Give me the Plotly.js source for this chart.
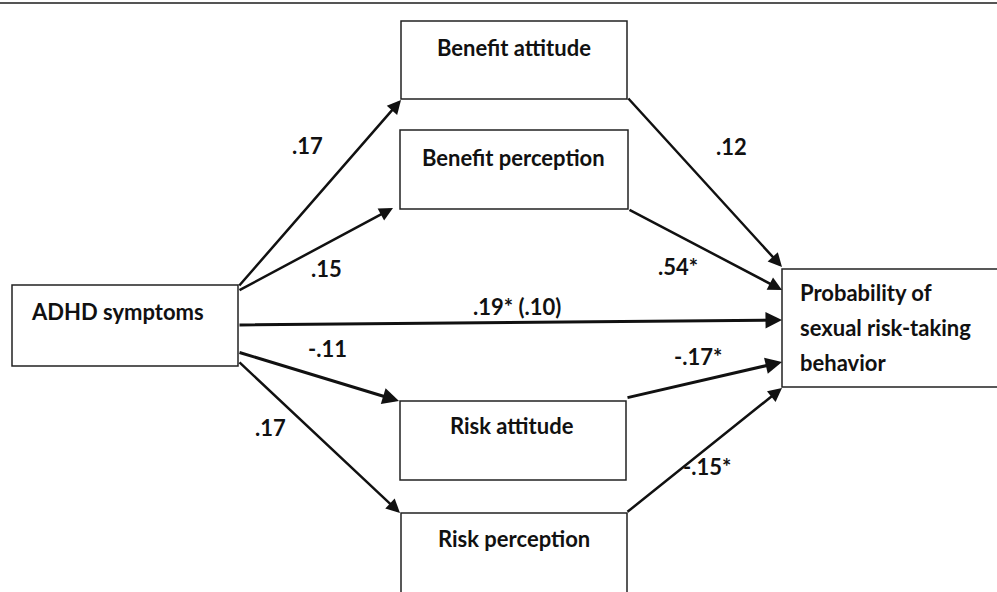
<!DOCTYPE html>
<html>
<head>
<meta charset="utf-8">
<script src="https://cdn.plot.ly/plotly-3.0.1.min.js"></script>
<style>html,body{margin:0;padding:0;background:#fff;}#chart{width:997px;height:592px;}</style>
</head>
<body>
<div id="chart"></div>
<script>
// ---- data ----
const nodeIds = ["adhd", "benAtt", "benPer", "riskAtt", "riskPer", "outcome"];
const nodeLabels = [["ADHD symptoms"], ["Benefit attitude"], ["Benefit perception"], ["Risk attitude"], ["Risk perception"], ["Probability of", "sexual risk-taking", "behavior"]];
const edgeFrom = ["adhd", "adhd", "adhd", "adhd", "adhd", "benAtt", "benPer", "riskAtt", "riskPer"];
const edgeTo = ["benAtt", "benPer", "outcome", "riskAtt", "riskPer", "outcome", "outcome", "outcome", "outcome"];
const edgeCoef = [".17", ".15", ".19* (.10)", "-.11", ".17", ".12", ".54*", "-.17*", "-.15*"];

// ---- geometry (pixel layout of the diagram) ----
const boxes = {
  adhd:    {x0: 12,  y0: 285, x1: 238,  y1: 366, tx: 29,  ty: 311, align: "left"},
  benAtt:  {x0: 401, y0: 21,  x1: 627,  y1: 99,  tx: 514, ty: 47,  align: "center"},
  benPer:  {x0: 400, y0: 130, x1: 628,  y1: 209, tx: 513, ty: 157, align: "center"},
  riskAtt: {x0: 400, y0: 401, x1: 626,  y1: 480, tx: 512, ty: 425, align: "center"},
  riskPer: {x0: 401, y0: 513, x1: 627,  y1: 600, tx: 514, ty: 538, align: "center"},
  outcome: {x0: 782, y0: 269, x1: 1005, y1: 387, tx: 798, ty: 292, align: "left"}
};
const LINE_GAP = 35;
const edgeGeom = [
  {tail: [238, 287], head: [401, 100], lx: 307, ly: 145, w: 2.5},
  {tail: [238, 291], head: [393, 208], lx: 326, ly: 268, w: 2.5},
  {tail: [238, 325], head: [782, 320], lx: 517, ly: 306, w: 3},
  {tail: [238, 352], head: [399, 401], lx: 327, ly: 348, w: 3},
  {tail: [238, 361], head: [400, 513], lx: 270, ly: 427, w: 2.5},
  {tail: [627, 97],  head: [782, 267], lx: 731, ly: 146, w: 2.5},
  {tail: [628, 209], head: [782, 290], lx: 678, ly: 266, w: 2.5},
  {tail: [626, 398], head: [782, 362], lx: 698, ly: 356, w: 3},
  {tail: [626, 513], head: [782, 388], lx: 707, ly: 466, w: 2.5}
];

const FONT = "Lato, 'Open Sans', 'Liberation Sans', sans-serif";
const FS = 22;
const shapes = [];
const annotations = [];

// top rule
shapes.push({type: "line", xref: "x", yref: "y", x0: 0, x1: 997, y0: 3, y1: 3, line: {color: "#555", width: 2}});

nodeIds.forEach((id, i) => {
  const b = boxes[id];
  shapes.push({type: "rect", xref: "x", yref: "y", x0: b.x0, y0: b.y0, x1: b.x1, y1: b.y1,
    line: {color: "#222", width: 1.5}, fillcolor: "rgba(0,0,0,0)"});
  nodeLabels[i].forEach((ln, k) => {
    annotations.push({x: b.tx, y: b.ty + k * LINE_GAP, xref: "x", yref: "y", text: "<b>" + ln + "</b>",
      showarrow: false, xanchor: b.align, yanchor: "middle",
      font: {family: FONT, size: FS, color: "#111"}});
  });
});

edgeFrom.forEach((f, i) => {
  const g = edgeGeom[i];
  annotations.push({x: g.head[0], y: g.head[1], ax: g.tail[0], ay: g.tail[1],
    xref: "x", yref: "y", axref: "x", ayref: "y", text: "", showarrow: true,
    arrowhead: 2, arrowsize: 1.1, arrowwidth: g.w, arrowcolor: "#111", standoff: 0, startstandoff: 0});
  annotations.push({x: g.lx, y: g.ly, xref: "x", yref: "y", text: "<b>" + edgeCoef[i] + "</b>",
    showarrow: false, xanchor: "center", yanchor: "middle",
    font: {family: FONT, size: FS, color: "#111"}});
});

const layout = {
  width: 997, height: 592,
  margin: {l: 0, r: 0, t: 0, b: 0},
  paper_bgcolor: "#fff", plot_bgcolor: "#fff",
  xaxis: {range: [0, 997], visible: false, fixedrange: true},
  yaxis: {range: [592, 0], visible: false, fixedrange: true},
  showlegend: false,
  shapes: shapes,
  annotations: annotations
};

Plotly.newPlot("chart", [{x: [], y: [], type: "scatter", mode: "markers"}], layout, {staticPlot: true, displayModeBar: false});
</script>
</body>
</html>
